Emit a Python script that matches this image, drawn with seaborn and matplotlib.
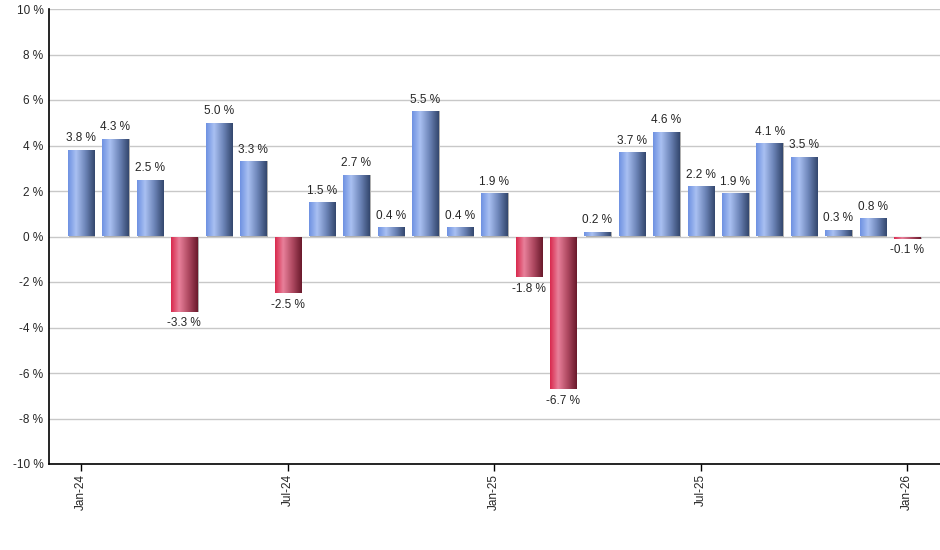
import numpy as np
import pandas as pd
import matplotlib
matplotlib.use('Agg')
import matplotlib.pyplot as plt
import seaborn as sns
from matplotlib.colors import LinearSegmentedColormap

months = ['Jan-24', 'Feb-24', 'Mar-24', 'Apr-24', 'May-24', 'Jun-24', 'Jul-24',
          'Aug-24', 'Sep-24', 'Oct-24', 'Nov-24', 'Dec-24', 'Jan-25', 'Feb-25',
          'Mar-25', 'Apr-25', 'May-25', 'Jun-25', 'Jul-25', 'Aug-25', 'Sep-25',
          'Oct-25', 'Nov-25', 'Dec-25', 'Jan-26']
returns = [3.8, 4.3, 2.5, -3.3, 5.0, 3.3, -2.5, 1.5, 2.7, 0.4, 5.5, 0.4, 1.9,
           -1.8, -6.7, 0.2, 3.7, 4.6, 2.2, 1.9, 4.1, 3.5, 0.3, 0.8, -0.1]
shown_ticks = ['Jan-24', 'Jul-24', 'Jan-25', 'Jul-25', 'Jan-26']
y_ticks = [-10, -8, -6, -4, -2, 0, 2, 4, 6, 8, 10]

df = pd.DataFrame({'month': months, 'ret': returns})

sns.set_style('white')
plt.rcParams['font.family'] = ['Liberation Sans', 'DejaVu Sans']

fig = plt.figure(figsize=(9.4, 5.5), dpi=100)
ax = fig.add_axes([49 / 940, 1 - 464 / 550, 891 / 940, 455 / 550])

sns.barplot(data=df, x='month', y='ret', color='#7f9fe0', width=0.76,
            ax=ax, zorder=3)

# cylinder-like shading, as in the original
blue = LinearSegmentedColormap.from_list(
    'b', [(0, '#6f92e2'), (0.3, '#a9c0f2'), (0.65, '#6d85b8'), (1, '#34476e')])
red = LinearSegmentedColormap.from_list(
    'r', [(0, '#d92a4e'), (0.3, '#e8809a'), (0.65, '#b04a62'), (1, '#6a1a2c')])
grad = np.linspace(0, 1, 64).reshape(1, -1)

for patch, val in zip(ax.patches, returns):
    x0, y0 = patch.get_x(), patch.get_y()
    w, h = patch.get_width(), patch.get_height()
    # small grey shadow on the right
    ax.add_patch(plt.Rectangle((x0 + 0.04, y0), w, h, color='#b0b0b0',
                               zorder=2.5, lw=0))
    im = ax.imshow(grad, cmap=blue if val >= 0 else red, aspect='auto',
                   extent=[x0, x0 + w, min(y0, y0 + h), max(y0, y0 + h)],
                   zorder=3.5)
    im.set_clip_path(patch)
    patch.set_facecolor('none')
    patch.set_edgecolor('none')
    if val >= 0:
        ax.text(x0 + w / 2, val + 0.25, f'{val:.1f} %', ha='center',
                va='bottom', fontsize=8.5, zorder=5)
    else:
        ax.text(x0 + w / 2, val - 0.25, f'{val:.1f} %', ha='center',
                va='top', fontsize=8.5, zorder=5)

ax.set_xlim(-0.93, 24.95)
ax.set_ylim(-10, 10)
ax.set_yticks(y_ticks)
ax.set_yticklabels([f'{t} %' for t in y_ticks], fontsize=8.5)
ax.yaxis.grid(True, color='#c8c8c8', lw=1, zorder=0)
ax.set_axisbelow(True)

pos = [months.index(m) for m in shown_ticks]
ax.set_xticks(pos)
ax.set_xticklabels(shown_ticks, rotation=90, fontsize=8.5)
ax.tick_params(axis='x', length=5, width=1, color='black', bottom=True, pad=2)
ax.tick_params(axis='y', length=0, pad=4)
ax.set_xlabel('')
ax.set_ylabel('')

for s in ['top', 'right']:
    ax.spines[s].set_visible(False)
for s in ['left', 'bottom']:
    ax.spines[s].set_color('black')
    ax.spines[s].set_linewidth(1.2)

fig.savefig('out.png', dpi=100)
